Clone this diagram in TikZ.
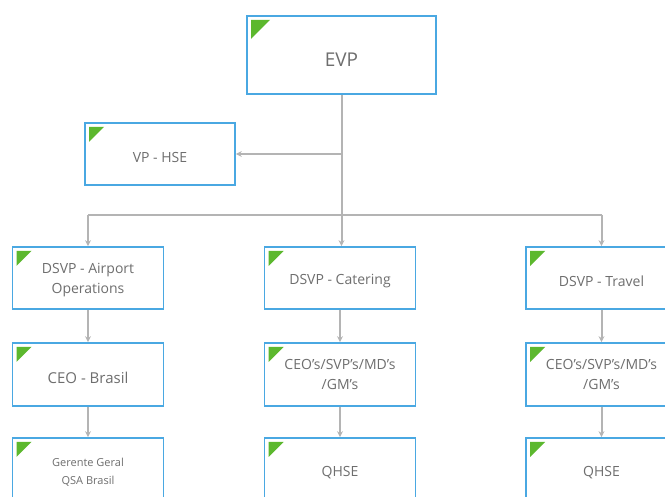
\documentclass[tikz,border=0pt]{standalone}
\usepackage{fontspec}
\setmainfont{Open Sans}
\usetikzlibrary{arrows.meta}
\definecolor{boxblue}{HTML}{4AA8E2}
\definecolor{leaf}{HTML}{5CB82E}
\definecolor{txtgray}{HTML}{6E6E6E}
\definecolor{linkgray}{HTML}{B4B4B4}
% invisible rule that makes a first line taller
\newcommand{\tallline}[1]{\rule{0pt}{#1}}
\tikzset{
  tri size/.store in=\trisize, tri size=15pt,
  orgbox/.style={draw=boxblue, line width=1.7pt, fill=white,
    minimum width=151pt, minimum height=62pt, inner sep=2pt,
    align=center, text=txtgray, font=\fontsize{14}{20}\selectfont,
    path picture={\fill[leaf]
      ([xshift=4pt,yshift=-4pt]path picture bounding box.north west)
      -- ++(\trisize,0pt) -- ++(-\trisize,-\trisize) -- cycle;}},
  % a taller first line sets a one-line label a little lower in the box
  oneline/.style={execute at begin node={\tallline{1.2em}}},
  wire/.style={draw=linkgray, line width=2pt},
  link/.style={wire, -{Stealth[length=6pt,width=6pt]}}
}
\begin{document}
\begin{tikzpicture}[x=1pt,y=-1pt]
  \useasboundingbox (0,0) rectangle (665,497);
  \clip (0,0) rectangle (665,497);

  % top of the chart
  \node[orgbox, oneline, minimum width=189pt, minimum height=78pt, tri size=19pt,
        font=\fontsize{19}{22}\selectfont] (evp) at (341.5,55) {EVP};
  \node[orgbox, oneline, minimum width=150pt] (hse) at (160,154) {VP - HSE};

  % first level
  \node[orgbox] (a1) at (88,278) {\tallline{1.05em}DSVP - Airport\\Operations};
  \node[orgbox, oneline] (c1) at (340,278) {DSVP - Catering};
  \node[orgbox, oneline] (t1) at (601.5,278) {DSVP - Travel};

  % second level
  \node[orgbox, oneline, minimum height=63pt, font=\fontsize{15}{20}\selectfont] (a2) at (88,374.5) {CEO - Brasil};
  \node[orgbox, minimum height=63pt] (c2) at (340,374.5) {CEO's/SVP's/MD's\\/GM's};
  \node[orgbox, minimum height=63pt] (t2) at (601.5,374.5) {CEO's/SVP's/MD's\\/GM's};

  % third level
  \node[orgbox, minimum height=63pt, font=\fontsize{11}{18}\selectfont] (a3) at (88,469.5) {\tallline{1.2em}Gerente Geral\\QSA Brasil};
  \node[orgbox, oneline, minimum height=63pt] (c3) at (340,469.5) {QHSE};
  \node[orgbox, oneline, minimum height=63pt] (t3) at (601.5,469.5) {QHSE};

  % connectors
  \coordinate (bus) at (evp.south |- 0,215);
  \coordinate (busA) at (a1.north |- bus);
  \coordinate (busT) at (t1.north |- bus);
  \coordinate (hsejoin) at (evp.south |- hse.east);
  \draw[wire] (evp.south) -- (bus);
  \draw[wire] (busA) -- (busT);
  \draw[link] (hsejoin) -- (hse.east);
  \draw[link] (busA) -- (a1.north);
  \draw[link] (bus) -- (bus |- c1.north);
  \draw[link] (busT) -- (t1.north);
  \draw[link] (a1.south) -- (a2.north);
  \draw[link] (a2.south) -- (a3.north);
  \draw[link] (c1.south) -- (c2.north);
  \draw[link] (c2.south) -- (c3.north);
  \draw[link] (t1.south) -- (t2.north);
  \draw[link] (t2.south) -- (t3.north);
\end{tikzpicture}
\end{document}
